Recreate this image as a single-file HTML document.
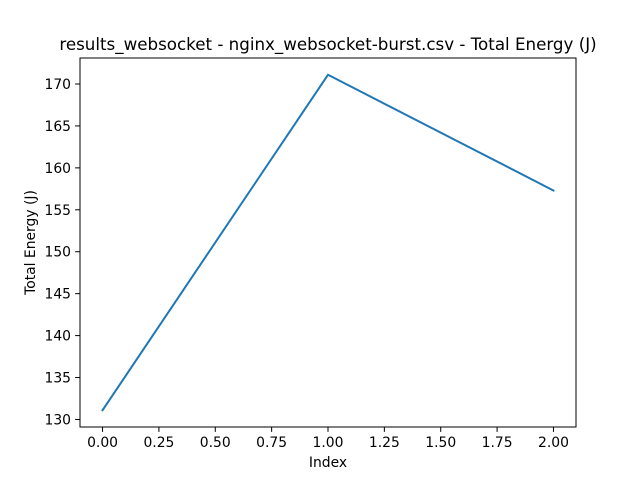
<!DOCTYPE html>
<html><head><meta charset="utf-8"><style>
body{margin:0;background:#fff;}
text{font-family:"DejaVu Sans","Liberation Sans",sans-serif;fill:#000;}
</style></head><body>
<svg id="chart" width="640" height="480" viewBox="0 0 640 480" xmlns="http://www.w3.org/2000/svg">
<rect width="640" height="480" fill="#fff"/>
<text x="328" y="50" font-size="16.7" text-anchor="middle">results_websocket - nginx_websocket-burst.csv - Total Energy (J)</text>
<g id="xticks"></g>
<g id="yticks"></g>
<path id="line" fill="none" stroke="#1f77b4" stroke-width="2" stroke-linecap="square"/>
<rect x="80" y="58" width="496" height="369" fill="none" stroke="#000" stroke-width="1"/>
<text x="328" y="467" font-size="13.9" text-anchor="middle">Index</text>
<text x="0" y="0" font-size="13.9" text-anchor="middle" transform="translate(35,242.5) rotate(-90)">Total Energy (J)</text>
</svg>
<script>
const xValues = [0, 1, 2];
const yValues = [131.1, 171.1, 157.3];
const xTicks = [0, 0.25, 0.5, 0.75, 1, 1.25, 1.5, 1.75, 2];
const xTickLabels = ["0.00","0.25","0.50","0.75","1.00","1.25","1.50","1.75","2.00"];
const yTicks = [130, 135, 140, 145, 150, 155, 160, 165, 170];
const yTickLabels = ["130","135","140","145","150","155","160","165","170"];

const L=80,R=576,T=58,B=427;
const xmin=Math.min(...xValues),xmax=Math.max(...xValues);
const xm=(xmax-xmin)*0.05;
const ymin=Math.min(...yValues),ymax=Math.max(...yValues);
const ym=(ymax-ymin)*0.05;
const sx=v=>L+(v-(xmin-xm))/((xmax+xm)-(xmin-xm))*(R-L);
const sy=v=>B-(v-(ymin-ym))/((ymax+ym)-(ymin-ym))*(B-T);
const NS="http://www.w3.org/2000/svg";
const xg=document.getElementById('xticks'),yg=document.getElementById('yticks');
xTicks.forEach((t,i)=>{
  const x=sx(t);
  const ln=document.createElementNS(NS,'line');
  
  
  ln.setAttribute('x1',x);ln.setAttribute('x2',x);ln.setAttribute('y1',B);ln.setAttribute('y2',B+4.9);
  ln.setAttribute('stroke','#000');ln.setAttribute('stroke-width','1');
  xg.appendChild(ln);
  const tx=document.createElementNS(NS,'text');
  
  
  tx.setAttribute('x',x);tx.setAttribute('y',B+20);tx.setAttribute('font-size','13.9');tx.setAttribute('text-anchor','middle');
  tx.textContent=xTickLabels[i];xg.appendChild(tx);
});
yTicks.forEach((t,i)=>{
  const y=sy(t);
  if(y<T||y>B)return;
  const ln=document.createElementNS(NS,'line');
  
  
  ln.setAttribute('x1',L-4.9);ln.setAttribute('x2',L);ln.setAttribute('y1',y);ln.setAttribute('y2',y);
  ln.setAttribute('stroke','#000');ln.setAttribute('stroke-width','1');
  yg.appendChild(ln);
  const tx=document.createElementNS(NS,'text');
  
  
  tx.setAttribute('x',L-9);tx.setAttribute('y',y+5);tx.setAttribute('font-size','13.9');tx.setAttribute('text-anchor','end');
  tx.textContent=yTickLabels[i];yg.appendChild(tx);
});
document.getElementById('line').setAttribute('d',xValues.map((v,i)=>(i?'L':'M')+sx(v)+','+sy(yValues[i])).join(' '));
</script>
</body></html>
